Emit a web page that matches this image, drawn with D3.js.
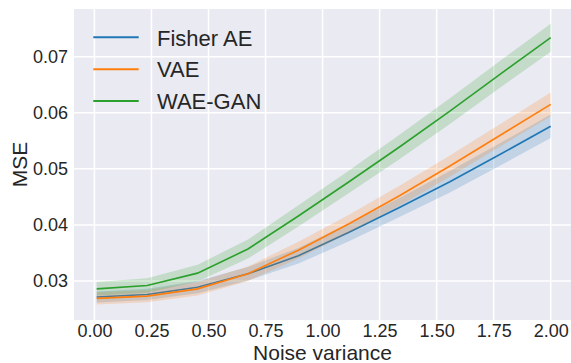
<!DOCTYPE html>
<html>
  <head>
    <script src="https://cdn.jsdelivr.net/npm/d3@7"></script>
    <style>
      body { margin: 0; background: #fff; }
      text { font-family: "Liberation Sans", Arial, sans-serif; fill: #262626; }
    </style>
  </head>
  <body>
    <svg width="571" height="363"></svg>
    <script type="text/javascript">
      // noise variance values (10 points)
      var noise = [0.01, 0.231, 0.452, 0.673, 0.894, 1.116, 1.337, 1.558, 1.779, 2.0];
      var fisherMse = [0.02715, 0.0276, 0.0289, 0.0313, 0.0345, 0.0387, 0.0431, 0.0477, 0.0526, 0.0576];
      var fisherErr = [0.0010, 0.0010, 0.0011, 0.0012, 0.0014, 0.0016, 0.0017, 0.0019, 0.0020, 0.0021];
      var vaeMse = [0.0269, 0.0273, 0.0286, 0.0313, 0.0355, 0.0402, 0.0452, 0.0505, 0.056, 0.0615];
      var vaeErr = [0.0011, 0.0011, 0.0012, 0.0013, 0.0015, 0.0016, 0.0018, 0.0019, 0.0020, 0.0021];
      var waeMse = [0.0286, 0.0292, 0.0314, 0.0357, 0.0416, 0.0477, 0.0539, 0.0603, 0.0669, 0.0734];
      var waeErr = [0.0012, 0.0013, 0.0015, 0.0017, 0.0019, 0.0020, 0.0022, 0.0023, 0.0024, 0.0025];
      var seriesNames = ["Fisher AE", "VAE", "WAE-GAN"];
      var colors = ["#1f77b4", "#ff7f0e", "#2ca02c"];
      var xTicks = [0, 0.25, 0.5, 0.75, 1.0, 1.25, 1.5, 1.75, 2.0];
      var yTicks = [0.03, 0.04, 0.05, 0.06, 0.07];

      var series = [
        { name: seriesNames[0], mean: fisherMse, err: fisherErr, color: colors[0] },
        { name: seriesNames[1], mean: vaeMse, err: vaeErr, color: colors[1] },
        { name: seriesNames[2], mean: waeMse, err: waeErr, color: colors[2] },
      ];

      var svg = d3.select("svg");
      var plotLeft = 74, plotRight = 573.4, plotTop = 9, plotBottom = 320;

      var xScale = d3.scaleLinear().domain([-0.0895, 2.0995]).range([plotLeft, plotRight]);
      var yScale = d3.scaleLinear().domain([0.023045, 0.07851]).range([plotBottom, plotTop]);

      svg.append("rect")
        .attr("x", plotLeft)
        .attr("y", plotTop)
        .attr("width", plotRight - plotLeft)
        .attr("height", plotBottom - plotTop)
        .attr("fill", "#eaeaf2");

      // grid
      svg.append("g")
        .selectAll("line")
        .data(xTicks)
        .enter()
        .append("line")
        .attr("x1", (d) => xScale(d))
        .attr("x2", (d) => xScale(d))
        .attr("y1", plotTop)
        .attr("y2", plotBottom)
        .attr("stroke", "#fff")
        .attr("stroke-width", 1.5);

      svg.append("g")
        .selectAll("line")
        .data(yTicks)
        .enter()
        .append("line")
        .attr("x1", plotLeft)
        .attr("x2", plotRight)
        .attr("y1", (d) => yScale(d))
        .attr("y2", (d) => yScale(d))
        .attr("stroke", "#fff")
        .attr("stroke-width", 1.5);

      // axes (labels only, no tick marks)
      var xAxis = svg.append("g")
        .attr("transform", "translate(0," + plotBottom + ")")
        .call(d3.axisBottom(xScale).tickValues(xTicks).tickFormat(d3.format(".2f")).tickSize(0).tickPadding(4));
      var yAxis = svg.append("g")
        .attr("transform", "translate(" + plotLeft + ",0)")
        .call(d3.axisLeft(yScale).tickValues(yTicks).tickFormat(d3.format(".2f")).tickSize(0).tickPadding(6));
      [xAxis, yAxis].forEach((a) => {
        a.select(".domain").remove();
        a.attr("font-family", null).attr("font-size", null);
        a.selectAll("text").attr("font-size", 18).attr("fill", "#262626");
      });

      var area = d3.area()
        .x((d) => xScale(d.x))
        .y0((d) => yScale(d.lo))
        .y1((d) => yScale(d.hi));
      var line = d3.line()
        .x((d) => xScale(d.x))
        .y((d) => yScale(d.y));

      series.forEach((s) => {
        var pts = noise.map((x, i) => ({ x: x, y: s.mean[i], lo: s.mean[i] - s.err[i], hi: s.mean[i] + s.err[i] }));
        svg.append("path")
          .attr("d", line(pts))
          .attr("fill", "none")
          .attr("stroke", s.color)
          .attr("stroke-width", 1.6);
        svg.append("path")
          .attr("d", area(pts))
          .attr("fill", s.color)
          .attr("fill-opacity", 0.2);
      });

      // legend
      var legend = svg.append("g");
      series.forEach((s, i) => {
        var y = 37.3 + i * 31.9;
        legend.append("line")
          .attr("x1", 93.3)
          .attr("x2", 138.7)
          .attr("y1", y)
          .attr("y2", y)
          .attr("stroke", s.color)
          .attr("stroke-width", 2);
        legend.append("text")
          .attr("x", 157)
          .attr("y", y + 8.2)
          .attr("font-size", 22)
          .text(s.name);
      });

      // axis labels
      svg.append("text")
        .attr("x", (plotLeft + 571) / 2)
        .attr("y", 359.5)
        .attr("text-anchor", "middle")
        .attr("font-size", 21)
        .text("Noise variance");
      svg.append("text")
        .attr("transform", "translate(26.5," + (plotTop + plotBottom) / 2 + ") rotate(-90)")
        .attr("text-anchor", "middle")
        .attr("font-size", 21)
        .text("MSE");
    </script>
  </body>
</html>
